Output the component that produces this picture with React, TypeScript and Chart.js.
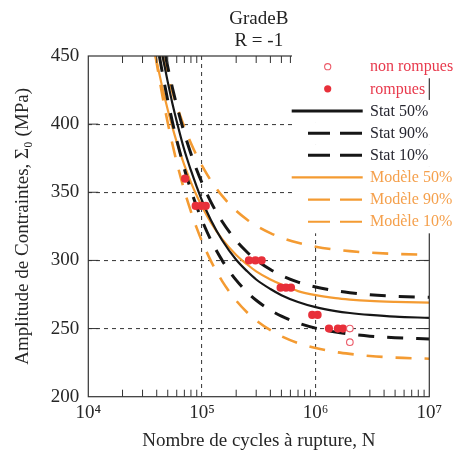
import React, { useEffect, useRef } from "react";
import { Chart, registerables } from "chart.js";

Chart.register(...registerables);

const FONT = "'Liberation Serif', 'Times New Roman', 'DejaVu Serif', serif";

// ---- texts ----
const titleLines = ["GradeB", "R = -1"];
const xTitle = "Nombre de cycles à rupture, N";
const yTitle = "Amplitude de Contraintes, Σ₀ (MPa)";
const xRange = [1e4, 1e7];
const yRange = [200, 450];
const yStep = 50;
const superscripts = ["⁰", "¹", "²", "³", "⁴", "⁵", "⁶", "⁷", "⁸", "⁹"];
const xGridDecades = [1e5, 1e6];
const yGridValues = [250, 300, 350, 400];
const minorMultipliers = [2, 3, 4, 5, 6, 7, 8, 9];
const minorDecades = [1e4, 1e5, 1e6];

// ---- experimental points ----
const nonRompuesN = [2.0e6, 2.0e6];
const nonRompuesS = [250, 240];
const rompuesN = [71000, 88000, 98000, 108000, 259000, 295000, 335000, 492000, 548000, 607000, 933000, 1040000, 1310000, 1570000, 1740000];
const rompuesS = [360, 340, 340, 340, 300, 300, 300, 280, 280, 280, 260, 260, 250, 250, 250];

// ---- curves ----
const stat50N = [45000, 50000, 55000, 60000, 70000, 80000, 90000, 1e5, 1.2e5, 1.5e5, 2e5, 2.5e5, 3e5, 4e5, 5e5, 7e5, 1e6, 1.5e6, 2e6, 3e6, 5e6, 1e7];
const stat50S = [450, 431, 415, 402, 381, 366, 354, 344, 329.5, 315, 300.5, 292, 286, 279, 274.5, 269.5, 265.7, 262.8, 261.4, 260, 258.7, 257.9];

const stat90N = [47800, 50000, 55000, 60000, 70000, 80000, 90000, 1e5, 1.2e5, 1.5e5, 2e5, 2.5e5, 3e5, 4e5, 5e5, 7e5, 1e6, 1.5e6, 2e6, 3e6, 5e6, 1e7];
const stat90S = [450, 442, 426.5, 413.7, 393.4, 378.3, 366.4, 357, 342.8, 328.7, 314.5, 306, 300.3, 293.3, 289, 284.1, 280.5, 277.7, 276.3, 274.8, 273.7, 272.9];

const stat10N = [42200, 45000, 50000, 55000, 60000, 70000, 80000, 90000, 1e5, 1.2e5, 1.5e5, 2e5, 2.5e5, 3e5, 4e5, 5e5, 7e5, 1e6, 1.5e6, 2e6, 3e6, 5e6, 1e7];
const stat10S = [450, 437, 417.5, 401.5, 388.2, 367.2, 351.5, 339.3, 329.5, 314.8, 300.2, 285.5, 276.7, 270.8, 263.5, 259.1, 254.1, 250.3, 247.4, 245.9, 244.4, 243.3, 242.4];

const mod50N = [39000, 45000, 50000, 55000, 60000, 70000, 80000, 90000, 1e5, 1.2e5, 1.5e5, 2e5, 2.5e5, 3e5, 4e5, 5e5, 7e5, 1e6, 1.5e6, 2e6, 3e6, 5e6, 1e7];
const mod50S = [450, 426.3, 410.5, 397.6, 386.8, 369.9, 357.3, 347.4, 339.5, 327.7, 315.8, 304, 297, 292, 286, 282.3, 277.5, 274.5, 272.3, 271.3, 270.3, 269.6, 269];

const mod90N = [45000, 50000, 55000, 60000, 70000, 80000, 90000, 1e5, 1.2e5, 1.5e5, 2e5, 2.5e5, 3e5, 4e5, 5e5, 7e5, 1e6, 1.5e6, 2e6, 3e6, 5e6, 1e7];
const mod90S = [450, 435.5, 423.5, 413.5, 397.8, 386, 376.8, 369.5, 358.5, 347.5, 336.5, 329.9, 325.5, 320, 316.7, 312.9, 310.1, 307.9, 306.8, 305.7, 304.8, 304.2];

const mod10N = [39000, 45000, 50000, 55000, 60000, 70000, 80000, 90000, 1e5, 1.2e5, 1.5e5, 2e5, 2.5e5, 3e5, 4e5, 5e5, 7e5, 1e6, 1.5e6, 2e6, 3e6, 5e6, 1e7];
const mod10S = [450, 420.3, 401, 385.2, 372, 351.3, 335.8, 323.7, 314, 299.5, 285, 270.5, 261.8, 256, 248.8, 244.4, 239.4, 235.7, 232.8, 231.4, 229.9, 228.7, 227.9];

const legendLabels = ["non rompues", "rompues", "Stat 50%", "Stat 90%", "Stat 10%", "Modèle 50%", "Modèle 90%", "Modèle 10%"];

const RED = "#e8303a";
const RED_LIGHT = "#ec5a68";
const BLACK = "#161616";
const ORANGE = "#f49b32";
const TEXT = "#262630";
const legendTextColors = ["#e8394c", "#e8394c", TEXT, TEXT, TEXT, "#f5a04c", "#f5a04c", "#f5a04c"];

const pts = (xs: number[], ys: number[]) => xs.map((x, i) => ({ x, y: ys[i] }));
const isPow10 = (v: number) => {
  const l = Math.log10(v);
  return Math.abs(l - Math.round(l)) < 1e-9;
};

const overlayPlugin = {
  id: "overlay",
  afterDraw(chart: any) {
    const { ctx, chartArea: a, scales } = chart;
    const xs = scales.x;
    const ys = scales.y;
    ctx.save();
    const seg = (x1: number, y1: number, x2: number, y2: number) => {
      ctx.beginPath();
      ctx.moveTo(x1, y1);
      ctx.lineTo(x2, y2);
      ctx.stroke();
    };
    // frame
    ctx.strokeStyle = "#333";
    ctx.lineWidth = 1.2;
    ctx.setLineDash([]);
    ctx.strokeRect(a.left, a.top, a.right - a.left, a.bottom - a.top);
    // minor x ticks (bottom and top, inward)
    ctx.lineWidth = 1;
    minorDecades.forEach((d) =>
      minorMultipliers.forEach((m) => {
        const px = xs.getPixelForValue(m * d);
        seg(px, a.bottom, px, a.bottom - 7);
        seg(px, a.top, px, a.top + 7);
      })
    );
    // y ticks inward
    yGridValues.forEach((v) => {
      const py = ys.getPixelForValue(v);
      seg(a.left, py, a.left + 10, py);
      seg(a.right - 10, py, a.right, py);
    });
    // title
    ctx.fillStyle = "#222";
    ctx.font = `19px ${FONT}`;
    ctx.textAlign = "center";
    ctx.textBaseline = "middle";
    titleLines.forEach((t, i) => ctx.fillText(t, (a.left + a.right) / 2, 19.5 + i * 22));

    // legend
    const lx0 = 292;
    const rowY0 = 66.7;
    const rowH = 22.15;
    const textX = 370;
    ctx.font = `16px ${FONT}`;
    ctx.textAlign = "left";
    const dsets = chart.data.datasets;
    legendLabels.forEach((label, i) => {
      const cy = rowY0 + i * rowH;
      const w = ctx.measureText(label).width;
      ctx.fillStyle = "#fff";
      const top = i === 0 ? cy - rowH / 2 - 8 : cy - rowH / 2;
      ctx.fillRect(lx0, top, textX + w + 3 - lx0, cy + rowH / 2 - top + 0.5);
    });
    legendLabels.forEach((label, i) => {
      const cy = rowY0 + i * rowH;
      const ds = dsets[i];
      if (!ds.showLine) {
        ctx.beginPath();
        ctx.setLineDash([]);
        ctx.arc(327.7, cy, i === 0 ? 3.1 : 3.6, 0, Math.PI * 2);
        if (i === 0) {
          ctx.fillStyle = "#fff";
          ctx.fill();
          ctx.strokeStyle = ds.borderColor;
          ctx.lineWidth = 1.1;
          ctx.stroke();
        } else {
          ctx.fillStyle = ds.backgroundColor;
          ctx.fill();
        }
      } else {
        ctx.strokeStyle = ds.borderColor;
        ctx.lineWidth = ds.borderColor === BLACK ? 3 : 2.2;
        if (ds.borderDash && ds.borderDash.length) {
          ctx.setLineDash([22, 10]);
          seg(308, cy, 362.7, cy);
        } else {
          ctx.setLineDash([]);
          seg(291.7, cy, 362.7, cy);
        }
      }
      ctx.setLineDash([]);
      ctx.fillStyle = legendTextColors[i];
      ctx.textBaseline = "middle";
      ctx.fillText(label, textX, cy + 0.5);
    });
    ctx.restore();
  },
};

export default function App() {
  const ref = useRef<HTMLCanvasElement | null>(null);
  useEffect(() => {
    document.body.style.margin = "0";
    if (!ref.current) return;
    const curve = (label: string, xs: number[], ys: number[], color: string, width: number, dash: number[]) => ({
      label,
      data: pts(xs, ys),
      showLine: true,
      borderColor: color,
      backgroundColor: color,
      borderWidth: width,
      borderDash: dash,
      pointRadius: 0,
      pointHoverRadius: 0,
      cubicInterpolationMode: "monotone",
      fill: false,
    });
    const chart = new Chart(ref.current, {
      type: "scatter",
      data: {
        datasets: [
          {
            label: legendLabels[0],
            data: pts(nonRompuesN, nonRompuesS),
            pointRadius: 3.3,
            pointBorderWidth: 1.1,
            borderColor: RED_LIGHT,
            backgroundColor: "#ffffff",
            showLine: false,
          },
          {
            label: legendLabels[1],
            data: pts(rompuesN, rompuesS),
            pointRadius: 4.1,
            pointBorderWidth: 0,
            borderColor: RED,
            backgroundColor: RED,
            showLine: false,
          },
          curve(legendLabels[2], stat50N, stat50S, BLACK, 2.2, []),
          curve(legendLabels[3], stat90N, stat90S, BLACK, 3, [16, 13]),
          curve(legendLabels[4], stat10N, stat10S, BLACK, 3, [16, 13]),
          curve(legendLabels[5], mod50N, mod50S, ORANGE, 2.2, []),
          curve(legendLabels[6], mod90N, mod90S, ORANGE, 2.6, [16, 13]),
          curve(legendLabels[7], mod10N, mod10S, ORANGE, 2.6, [16, 13]),
        ] as any,
      },
      options: {
        responsive: false,
        animation: false,
        devicePixelRatio: 1,
        layout: { padding: { top: 56, right: 27.7, left: 0, bottom: 0 } },
        plugins: {
          legend: { display: false },
          tooltip: { enabled: false },
          title: { display: false },
        },
        scales: {
          x: {
            type: "logarithmic",
            min: xRange[0],
            max: xRange[1],
            position: "bottom",
            afterFit: (s: any) => {
              s.height = 58.3;
              s.paddingLeft = 0;
              s.paddingRight = 0;
              s.paddingTop = 0;
              s.paddingBottom = 0;
            },
            ticks: {
              autoSkip: false,
              maxRotation: 0,
              padding: 5,
              color: "#262626",
              font: { family: FONT, size: 19 },
              callback: (v: any) => {
                const n = Number(v);
                if (!isPow10(n)) return "";
                const e = Math.round(Math.log10(n));
                return "10" + superscripts[e];
              },
            },
            grid: {
              drawTicks: false,
              lineWidth: 1.1,
              color: (c: any) => (c.tick && xGridDecades.some((d) => Math.abs(c.tick.value - d) < 1) ? "#444" : "rgba(0,0,0,0)"),
            },
            border: { display: false, dash: [4, 4] },
            title: {
              display: true,
              text: xTitle,
              color: "#262626",
              font: { family: FONT, size: 19 },
              padding: { top: 0, bottom: 2.5 },
            },
          },
          y: {
            type: "linear",
            min: yRange[0],
            max: yRange[1],
            afterFit: (s: any) => {
              s.width = 88.3;
              s.paddingLeft = 0;
              s.paddingRight = 0;
              s.paddingTop = 0;
              s.paddingBottom = 0;
            },
            ticks: {
              stepSize: yStep,
              padding: 9,
              color: "#262626",
              font: { family: FONT, size: 19 },
            },
            grid: {
              drawTicks: false,
              lineWidth: 1.1,
              color: (c: any) => (c.tick && yGridValues.includes(c.tick.value) ? "#444" : "rgba(0,0,0,0)"),
            },
            border: { display: false, dash: [4, 4] },
            title: {
              display: true,
              text: yTitle,
              color: "#262626",
              font: { family: FONT, size: 19 },
              padding: { top: 11.2, bottom: 0 },
            },
          },
        },
      },
      plugins: [overlayPlugin],
    });
    return () => chart.destroy();
  }, []);
  return (
    <div style={{ position: "absolute", left: 0, top: 0, width: 457, height: 455, background: "#fff" }}>
      <canvas ref={ref} width={457} height={455} style={{ display: "block" }} />
    </div>
  );
}
